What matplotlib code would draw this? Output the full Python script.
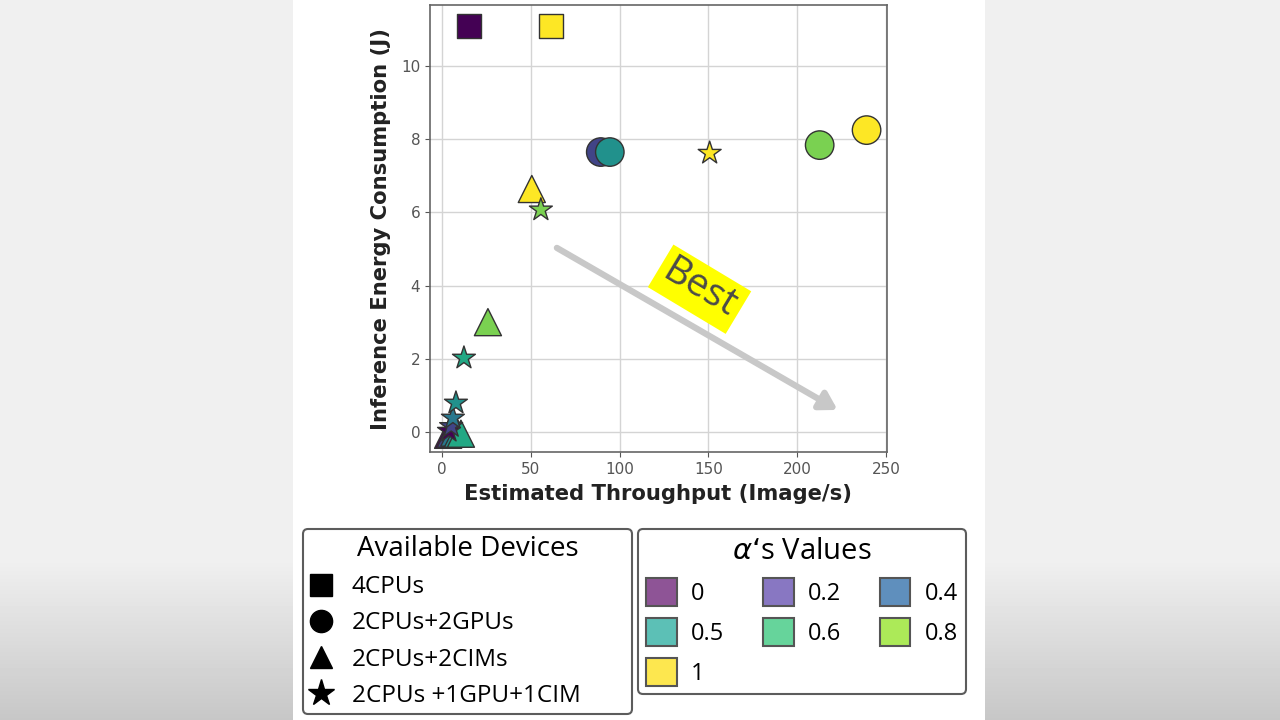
import matplotlib
matplotlib.use("Agg")
import matplotlib.pyplot as plt
from matplotlib.lines import Line2D
from matplotlib.patches import Patch, Rectangle
import numpy as np

# ---------------- data ----------------
devices = ["4CPUs", "2CPUs+2GPUs", "2CPUs+2CIMs", "2CPUs +1GPU+1CIM"]
device_markers = ["s", "o", "^", "*"]

alpha_values = [0, 0.2, 0.4, 0.5, 0.6, 0.8, 1]
alpha_labels = ["0", "0.2", "0.4", "0.5", "0.6", "0.8", "1"]
legend_colors = ["#8e5496", "#8877c2", "#5f8fbd", "#5cc0b6", "#66d49b", "#acea58", "#fde74f"]

# per device: alpha, throughput, energy
cpu4_alpha = [0.0, 1.0]
cpu4_x = [15.2, 61.3]
cpu4_y = [11.1, 11.1]

gpu_alpha = [0.2, 0.5, 0.8, 1.0]
gpu_x = [89.4, 94.5, 212.6, 239.0]
gpu_y = [7.65, 7.65, 7.84, 8.25]

cim_alpha = [0.0, 0.2, 0.4, 0.5, 0.6, 0.8, 1.0]
cim_x = [3.5, 5.0, 7.0, 9.0, 10.7, 25.9, 50.6]
cim_y = [-0.08, -0.05, -0.02, -0.05, -0.05, 3.0, 6.64]

mix_alpha = [0.0, 0.2, 0.4, 0.5, 0.6, 0.8, 1.0]
mix_x = [4.0, 5.2, 6.2, 7.9, 12.4, 55.7, 150.7]
mix_y = [0.02, 0.15, 0.38, 0.79, 2.02, 6.07, 7.62]

x_ticks = [0, 50, 100, 150, 200, 250]
y_ticks = [0, 2, 4, 6, 8, 10]

# annotation (data coords)
arrow_start = (64.7, 5.03)
arrow_end = (222.7, 0.6)
best_pos = (145.0, 3.9)

# ---------------- figure ----------------
fig = plt.figure(figsize=(12.8, 7.2), dpi=100, facecolor="#ececec")

# soft grey background at the sides (darker towards the bottom)
bg = fig.add_axes([0, 0, 1, 1], zorder=-20)
grad = np.concatenate([np.full(560, 0.94), np.linspace(0.94, 0.78, 160)])[:, None]
bg.imshow(np.repeat(grad, 2, axis=1), cmap="gray", vmin=0, vmax=1,
          aspect="auto", extent=(0, 1, 0, 1), origin="upper")
bg.set_axis_off()

fig.patches.append(Rectangle((293 / 1280, 0), (985 - 293) / 1280, 1,
                             transform=fig.transFigure, facecolor="white",
                             edgecolor="none", zorder=-10))

ax = fig.add_axes([430 / 1280, 1 - 452 / 720, (887 - 430) / 1280, (452 - 5) / 720])
ax.set_facecolor("white")

cmap = plt.get_cmap("viridis")
series = [
    (cpu4_alpha, cpu4_x, cpu4_y, "s", 310),
    (gpu_alpha, gpu_x, gpu_y, "o", 420),
    (cim_alpha, cim_x, cim_y, "^", 380),
    (mix_alpha, mix_x, mix_y, "*", 300),
]
for al, xs, ys, mk, s in series:
    ax.scatter(xs, ys, c=[cmap(float(a)) for a in al], marker=mk, s=s,
               edgecolors="#333333", linewidths=1.0, zorder=3)

ax.set_xlim(-6.7, 250.5)
ax.set_ylim(-0.55, 11.67)
ax.set_xticks(x_ticks)
ax.set_yticks(y_ticks)
ax.grid(True, color="#d4d4d4", linewidth=1.0, zorder=0)
ax.set_axisbelow(True)
for sp in ax.spines.values():
    sp.set_color("#666666")
    sp.set_linewidth(1.2)
ax.tick_params(labelsize=11, colors="#555555", labelcolor="#555555")
ax.set_xlabel("Estimated Throughput (Image/s)", fontsize=15.2, fontweight="bold",
              color="#222222", labelpad=5)
ax.set_ylabel("Inference Energy Consumption (J)", fontsize=15.2, fontweight="bold",
              color="#222222", labelpad=7)

ax.annotate("", xy=arrow_end, xytext=arrow_start,
            arrowprops=dict(arrowstyle="-|>,head_length=1.0,head_width=0.6",
                            color="#c8c8c8", lw=4.5, shrinkA=0, shrinkB=0),
            zorder=2)
ax.text(best_pos[0], best_pos[1], "Best", rotation=-31, fontsize=28,
        family="Open Sans", color="#4a4a4a", ha="center", va="center",
        bbox=dict(boxstyle="square,pad=0.15", facecolor="#ffff00", edgecolor="none"),
        zorder=4)

# ---------------- legends ----------------
dev_handles = [Line2D([], [], marker=m, color="black", linestyle="none",
                      markersize=(20 if m == "*" else 16)) for m in device_markers]
leg1 = fig.legend(dev_handles, devices, loc="upper left",
                  bbox_to_anchor=(303 / 1280, 0.0, (632 - 303) / 1280, 1 - 529 / 720),
                  mode="expand", title="Available Devices", frameon=True, fancybox=True,
                  prop=dict(family="Open Sans", size=17.5),
                  title_fontproperties=dict(family="Open Sans", size=20),
                  handlelength=1.0, handletextpad=0.75, labelspacing=0.5,
                  borderpad=0.25, borderaxespad=0.0, alignment="center")
leg1.get_frame().set_edgecolor("#333333")
leg1.get_frame().set_linewidth(1.5)

order = [0, 3, 6, 1, 4, 2, 5]
a_handles = [Patch(facecolor=legend_colors[i], edgecolor="#555555", linewidth=1.5) for i in order]
a_labels = [alpha_labels[i] for i in order]
leg2 = fig.legend(a_handles, a_labels, loc="upper left", ncol=3,
                  bbox_to_anchor=(638 / 1280, 0.0, (966 - 638) / 1280, 1 - 529 / 720),
                  mode="expand", title=r"$\alpha$‘s Values", frameon=True, fancybox=True,
                  prop=dict(family="Open Sans", size=17),
                  title_fontproperties=dict(family="Open Sans", size=21),
                  handlelength=1.3, handleheight=1.45, handletextpad=0.6,
                  labelspacing=0.5, columnspacing=0.5, borderpad=0.35,
                  borderaxespad=0.0)
leg2.get_frame().set_edgecolor("#333333")
leg2.get_frame().set_linewidth(1.5)

fig.savefig("out.png", dpi=100, facecolor=fig.get_facecolor())
